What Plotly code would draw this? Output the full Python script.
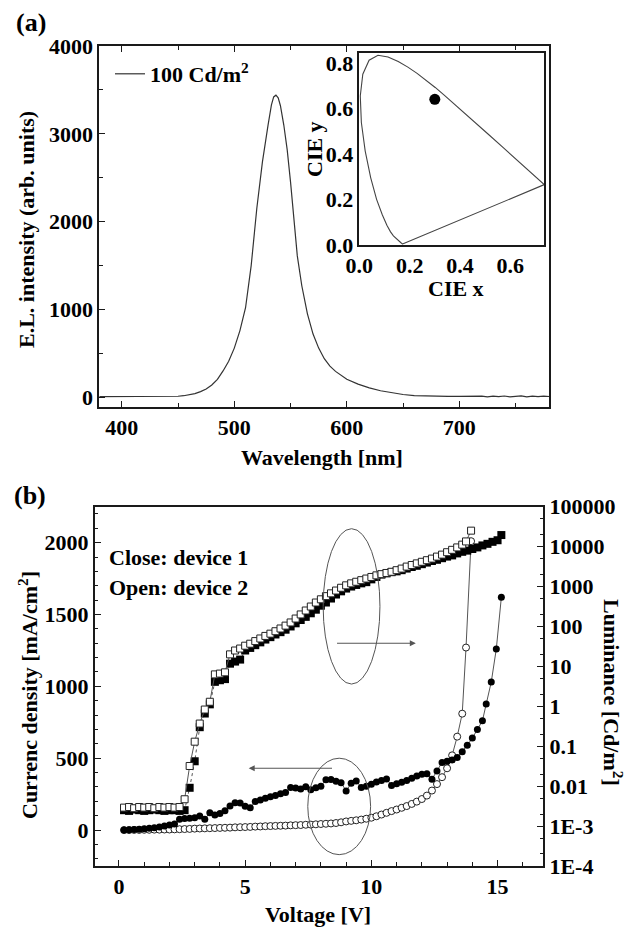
import plotly.graph_objects as go

# ---------------- Panel (a): EL spectrum ----------------
wavelength = [380, 400, 420, 440, 450, 455, 460, 465, 470, 475, 480, 485, 490, 495, 500,
              505, 510, 515, 520, 525, 530, 533, 535, 537, 539, 541, 544, 547, 550, 553,
              556, 560, 565, 570, 575, 580, 585, 590, 595, 600, 610, 620, 630, 640, 650,
              660, 670, 680, 690, 700, 710, 715, 720, 725, 730, 735, 740, 745, 750, 755,
              760, 765, 770, 775, 780]
el_intensity = [8, 8, 8, 9, 12, 18, 28, 42, 65, 95, 140, 205, 300, 410, 560,
                760, 1020, 1500, 2150, 2680, 3100, 3330, 3420, 3440, 3410, 3320, 3100, 2820, 2450, 2000,
                1610, 1270, 950, 720, 560, 440, 355, 295, 245, 205, 150, 108, 75, 50, 32,
                20, 14, 11, 10, 10, 12, 6, 14, 5, 13, 7, 15, 6, 12, 16,
                5, 13, 7, 14, 9]
legend_label = "<b>100 Cd/m<sup>2</sup></b>"
wl_ticks = [400, 500, 600, 700]
el_ticks = [0, 1000, 2000, 3000, 4000]

# CIE 1931 spectral locus (inset)
cie_locus_x = [0.1741, 0.1714, 0.1644, 0.1566, 0.1440, 0.1355, 0.1241, 0.1096, 0.0913, 0.0687,
               0.0454, 0.0235, 0.0082, 0.0039, 0.0139, 0.0389, 0.0743, 0.1142, 0.1547, 0.1929,
               0.2296, 0.2658, 0.3016, 0.3373, 0.3731, 0.4441, 0.5125, 0.5752, 0.6270, 0.6658,
               0.6915, 0.7190, 0.7300, 0.7347, 0.1741]
cie_locus_y = [0.0050, 0.0051, 0.0109, 0.0177, 0.0297, 0.0399, 0.0578, 0.0868, 0.1327, 0.2007,
               0.2950, 0.4127, 0.5384, 0.6548, 0.7502, 0.8120, 0.8338, 0.8262, 0.8059, 0.7816,
               0.7543, 0.7243, 0.6923, 0.6589, 0.6245, 0.5547, 0.4866, 0.4242, 0.3725, 0.3340,
               0.3083, 0.2809, 0.2700, 0.2653, 0.0050]
device_cie_x = [0.30]
device_cie_y = [0.64]
cie_x_ticks = [0, 0.2, 0.4, 0.6]
cie_y_ticks = [0, 0.2, 0.4, 0.6, 0.8]

# ---------------- Panel (b): J-V-L ----------------
v_dev1_j = [0.2, 0.4, 0.6, 0.8, 1.0, 1.2, 1.4, 1.6, 1.8, 2.0, 2.2, 2.4, 2.6, 2.8, 3.0, 3.2, 3.4, 3.6,
            3.8, 4.0, 4.2, 4.4, 4.6, 4.8, 5.0, 5.2, 5.4, 5.6, 5.8, 6.0, 6.2, 6.4, 6.6, 6.8, 7.0, 7.2,
            7.4, 7.6, 7.8, 8.0, 8.2, 8.4, 8.6, 8.8, 9.0, 9.2, 9.4, 9.6, 9.8, 10.0, 10.2, 10.4, 10.6,
            10.8, 11.0, 11.2, 11.4, 11.6, 11.8, 12.0, 12.2, 12.4, 12.6, 12.8, 13.0, 13.2, 13.4, 13.6,
            13.8, 14.0, 14.2, 14.4, 14.55, 14.75, 14.95, 15.15]
j_dev1 = [0, 2, 4, 6, 10, 13, 17, 22, 28, 35, 42, 75, 80, 83, 86, 98, 75, 121,
          105, 115, 135, 168, 190, 188, 165, 155, 198, 210, 222, 232, 240, 252, 262, 296, 292, 285,
          302, 280, 295, 305, 350, 352, 340, 330, 272, 325, 342, 296, 305, 319, 335, 345, 356,
          310, 322, 332, 345, 360, 377, 388, 392, 354, 411, 470, 478, 488, 505, 545,
          590, 640, 700, 760, 877, 1030, 1260, 1620]

v_dev2_j = [0.2, 0.4, 0.6, 0.8, 1.0, 1.2, 1.4, 1.6, 1.8, 2.0, 2.2, 2.4, 2.6, 2.8, 3.0, 3.2, 3.4, 3.6,
            3.8, 4.0, 4.2, 4.4, 4.6, 4.8, 5.0, 5.2, 5.4, 5.6, 5.8, 6.0, 6.2, 6.4, 6.6, 6.8, 7.0, 7.2,
            7.4, 7.6, 7.8, 8.0, 8.2, 8.4, 8.6, 8.8, 9.0, 9.2, 9.4, 9.6, 9.8, 10.0, 10.2, 10.4, 10.6,
            10.8, 11.0, 11.2, 11.4, 11.6, 11.8, 12.0, 12.2, 12.4, 12.6, 12.8, 13.0, 13.2, 13.4, 13.6,
            13.75, 13.95]
j_dev2 = [0, 0, 1, 1, 2, 2, 3, 3, 4, 4, 5, 6, 7, 8, 10, 11, 12, 13,
          14, 15, 16, 17, 19, 20, 21, 22, 24, 25, 27, 28, 29, 30, 31, 33, 34, 35,
          37, 38, 40, 42, 44, 46, 49, 54, 60, 64, 68, 73, 79, 86, 96, 108, 120,
          132, 143, 155, 167, 182, 198, 216, 240, 275, 320, 368, 430, 520, 650, 810,
          1270, 2010]

v_dev1_l = [0.2, 0.4, 0.6, 0.8, 1.0, 1.2, 1.4, 1.6, 1.8, 2.0, 2.2, 2.4, 2.6, 2.8, 3.0, 3.2, 3.4, 3.6,
            3.8, 4.0, 4.2, 4.4, 4.6, 4.8, 5.0, 5.2, 5.4, 5.6, 5.8, 6.0, 6.2, 6.4, 6.6, 6.8, 7.0, 7.2,
            7.4, 7.6, 7.8, 8.0, 8.2, 8.4, 8.6, 8.8, 9.0, 9.2, 9.4, 9.6, 9.8, 10.0, 10.2, 10.4, 10.6,
            10.8, 11.0, 11.2, 11.4, 11.6, 11.8, 12.0, 12.2, 12.4, 12.6, 12.8, 13.0, 13.2, 13.4, 13.6,
            13.8, 14.0, 14.2, 14.4, 14.6, 14.8, 15.0, 15.15]
lum_dev1 = [0.0025, 0.0024, 0.0026, 0.0025, 0.0024, 0.0025, 0.0026, 0.0025, 0.0024, 0.0025, 0.0025,
            0.0024, 0.0025, 0.0091, 0.042, 0.30, 0.66, 1.12, 4.1, 4.5, 4.8, 11.7, 13.2, 14.8, 25, 29,
            34, 40, 47, 54, 63, 72, 83, 100, 120, 145, 174, 214, 263, 331, 398, 501, 631, 759, 891,
            1000, 1096, 1202, 1288, 1514, 1738, 1995, 2138, 2291, 2399, 2570, 2818, 3090, 3311, 3631,
            3981, 4365, 4677, 5129, 5623, 6026, 6761, 7413, 7943, 8710, 9550, 10715, 11749, 13183,
            14454, 19498]

v_dev2_l = [0.2, 0.4, 0.6, 0.8, 1.0, 1.2, 1.4, 1.6, 1.8, 2.0, 2.2, 2.4, 2.6, 2.8, 3.0, 3.2, 3.4, 3.6,
            3.8, 4.0, 4.2, 4.4, 4.6, 4.8, 5.0, 5.2, 5.4, 5.6, 5.8, 6.0, 6.2, 6.4, 6.6, 6.8, 7.0, 7.2,
            7.4, 7.6, 7.8, 8.0, 8.2, 8.4, 8.6, 8.8, 9.0, 9.2, 9.4, 9.6, 9.8, 10.0, 10.2, 10.4, 10.6,
            10.8, 11.0, 11.2, 11.4, 11.6, 11.8, 12.0, 12.2, 12.4, 12.6, 12.8, 13.0, 13.2, 13.4, 13.6,
            13.75, 13.95]
lum_dev2 = [0.0029, 0.003, 0.0028, 0.003, 0.0029, 0.003, 0.0028, 0.003, 0.0029, 0.003, 0.0029, 0.003,
            0.0047, 0.032, 0.13, 0.37, 0.83, 1.3, 6.3, 6.6, 7.1, 20, 25, 28, 33, 37, 43, 50, 58, 66,
            76, 89, 105, 126, 158, 200, 251, 316, 398, 479, 575, 676, 794, 933, 1072, 1202, 1318,
            1445, 1585, 1738, 1905, 2042, 2188, 2344, 2570, 2818, 3162, 3467, 3802, 4169, 4571, 5012,
            5623, 6310, 7244, 8318, 9550, 11220, 13490, 25119]

volt_ticks = [0, 5, 10, 15]
j_ticks = [0, 500, 1000, 1500, 2000]
lum_tickvals = [1e-4, 1e-3, 1e-2, 1e-1, 1, 10, 100, 1000, 10000, 100000]
lum_ticktext = ["1E-4", "1E-3", "0.01", "0.1", "1", "10", "100", "1000", "10000", "100000"]

# ---------------- figure ----------------
W, H = 635, 929
OFF = 8  # page body margin offset of the rendered figure
FONT = "Liberation Serif"


def fx(px):
    return (px - OFF) / W


def fy(py):
    return 1 - (py - OFF) / H


def bold(labels):
    return ["<b>%s</b>" % t for t in labels]


tickfont = dict(family=FONT, size=22, color="black")
LINE_C = "#1a1a1a"

fig = go.Figure()

fig.add_trace(go.Scatter(x=wavelength, y=el_intensity, mode="lines", name=legend_label,
                         line=dict(color="#333333", width=1.2), xaxis="x", yaxis="y",
                         showlegend=True))
fig.add_trace(go.Scatter(x=cie_locus_x, y=cie_locus_y, mode="lines",
                         line=dict(color="#444444", width=1.1), xaxis="x2", yaxis="y2",
                         showlegend=False))
fig.add_trace(go.Scatter(x=device_cie_x, y=device_cie_y, mode="markers",
                         marker=dict(color="black", size=11), xaxis="x2", yaxis="y2",
                         showlegend=False))

# J-V curves (left axis)
fig.add_trace(go.Scatter(x=v_dev2_j, y=j_dev2, mode="lines+markers", xaxis="x3", yaxis="y3",
                         line=dict(color="#555555", width=1),
                         marker=dict(symbol="circle", size=7, color="white",
                                     line=dict(color="#222222", width=1)),
                         showlegend=False))
fig.add_trace(go.Scatter(x=v_dev1_j, y=j_dev1, mode="lines+markers", xaxis="x3", yaxis="y3",
                         line=dict(color="#555555", width=1),
                         marker=dict(symbol="circle", size=7, color="black"),
                         showlegend=False))
# Luminance (right axis)
fig.add_trace(go.Scatter(x=v_dev1_l, y=lum_dev1, mode="lines+markers", xaxis="x3", yaxis="y4",
                         line=dict(color="#555555", width=1, dash="dot"),
                         marker=dict(symbol="square", size=8, color="black"),
                         showlegend=False))
fig.add_trace(go.Scatter(x=v_dev2_l, y=lum_dev2, mode="lines+markers", xaxis="x3", yaxis="y4",
                         line=dict(color="#555555", width=1),
                         marker=dict(symbol="square", size=7, color="white",
                                     line=dict(color="#222222", width=1)),
                         showlegend=False))

axis_common = dict(showline=True, linecolor=LINE_C, linewidth=2, showgrid=False, zeroline=False,
                   tickfont=tickfont, ticks="inside", tickcolor=LINE_C, ticklen=6, tickwidth=1,
                   automargin=False)

fig.update_layout(
    template="none",
    width=W, height=H,
    margin=dict(l=0, r=0, t=0, b=0, pad=0, autoexpand=False),
    paper_bgcolor="white", plot_bgcolor="rgba(0,0,0,0)",
    font=dict(family=FONT, color="black"),
    xaxis=dict(domain=[fx(99.3), fx(549.3)], anchor="y", range=[380, 780],
               tickvals=wl_ticks, ticktext=bold([str(t) for t in wl_ticks]), mirror="ticks",
               minor=dict(tickvals=[450, 550, 650, 750], ticks="inside", ticklen=4,
                          tickcolor=LINE_C), **axis_common),
    yaxis=dict(domain=[fy(406.7), fy(46)], anchor="x", range=[-107, 4000],
               tickvals=el_ticks, ticktext=bold([str(t) for t in el_ticks]), mirror=True,
               minor=dict(tickvals=[500, 1500, 2500, 3500], ticks="inside", ticklen=4,
                          tickcolor=LINE_C), **axis_common),
    xaxis2=dict(domain=[fx(359.3), fx(544.3)], anchor="y2", range=[0, 0.735],
                tickvals=cie_x_ticks, ticktext=bold(["%.1f" % t for t in cie_x_ticks]),
                showline=True, linecolor=LINE_C, linewidth=1.5, mirror=True, showgrid=False,
                zeroline=False, ticks="", tickfont=tickfont, automargin=False),
    yaxis2=dict(domain=[fy(245), fy(52.7)], anchor="x2", range=[0, 0.845],
                tickvals=cie_y_ticks, ticktext=bold(["%.1f" % t for t in cie_y_ticks]),
                showline=True, linecolor=LINE_C, linewidth=1.5, mirror=True, showgrid=False,
                zeroline=False, ticks="", tickfont=tickfont, automargin=False),
    xaxis3=dict(domain=[fx(95), fx(543)], anchor="y3", range=[-0.95, 16.8],
                tickvals=volt_ticks, ticktext=bold([str(t) for t in volt_ticks]), mirror=True,
                minor=dict(dtick=1, ticks="inside", ticklen=4, tickcolor=LINE_C), **axis_common),
    yaxis3=dict(domain=[fy(866), fy(506.7)], anchor="x3", range=[-250, 2250],
                tickvals=j_ticks, ticktext=bold([str(t) for t in j_ticks]), mirror=False,
                minor=dict(dtick=100, ticks="inside", ticklen=3, tickcolor=LINE_C), **axis_common),
    yaxis4=dict(overlaying="y3", side="right", anchor="x3", type="log", range=[-4, 5],
                tickvals=lum_tickvals, ticktext=bold(lum_ticktext),
                minor=dict(ticks="inside", ticklen=3, tickcolor=LINE_C, showgrid=False),
                **axis_common),
    showlegend=True,
    legend=dict(x=fx(110), y=fy(53), xanchor="left", yanchor="top", bgcolor="rgba(0,0,0,0)",
                font=dict(family=FONT, size=22, color="black"),
                itemwidth=30, tracegroupgap=0, borderwidth=0),
)

# Ellipses and arrows (annotation graphics)
fig.add_shape(type="circle", xref="x3", yref="y3", x0=8.09, x1=10.34, y0=1016, y1=2097,
              line=dict(color="#555555", width=1))
fig.add_shape(type="circle", xref="x3", yref="y3", x0=7.48, x1=9.97, y0=-171, y1=500,
              line=dict(color="#555555", width=1))

fig.add_annotation(x=11.76, y=1300, ax=8.58, ay=1300, xref="x3", yref="y3", axref="x3",
                   ayref="y3", text="", showarrow=True, arrowhead=2, arrowsize=1,
                   arrowwidth=1.2, arrowcolor="#555555")
fig.add_annotation(x=5.14, y=430, ax=8.5, ay=430, xref="x3", yref="y3", axref="x3",
                   ayref="y3", text="", showarrow=True, arrowhead=2, arrowsize=1,
                   arrowwidth=1.2, arrowcolor="#555555")


def label(text, px, py, angle=0, xanchor="center", size=22):
    fig.add_annotation(x=fx(px), y=fy(py), xref="paper", yref="paper", text="<b>%s</b>" % text,
                       showarrow=False, textangle=angle, xanchor=xanchor, yanchor="middle",
                       font=dict(family=FONT, size=size, color="black"))


label("(a)", 14, 23, xanchor="left", size=26)
label("E.L. intensity (arb. units)", 26, 230, angle=-90, size=22)
label("Wavelength [nm]", 322, 457, size=22)
label("CIE y", 315, 149, angle=-90, size=22)
label("CIE x", 456, 288, size=22)
label("(b)", 12, 495, xanchor="left", size=26)
label("Currenc density [mA/cm<sup>2</sup>]", 28, 695, angle=-90, size=22)
label("Luminance [Cd/m<sup>2</sup>]", 613, 692, angle=90, size=22)
label("Voltage [V]", 318, 914, size=22)
label("Close: device 1", 107, 557, xanchor="left", size=22)
label("Open: device 2", 107, 587, xanchor="left", size=22)

fig.write_html("out.html")
